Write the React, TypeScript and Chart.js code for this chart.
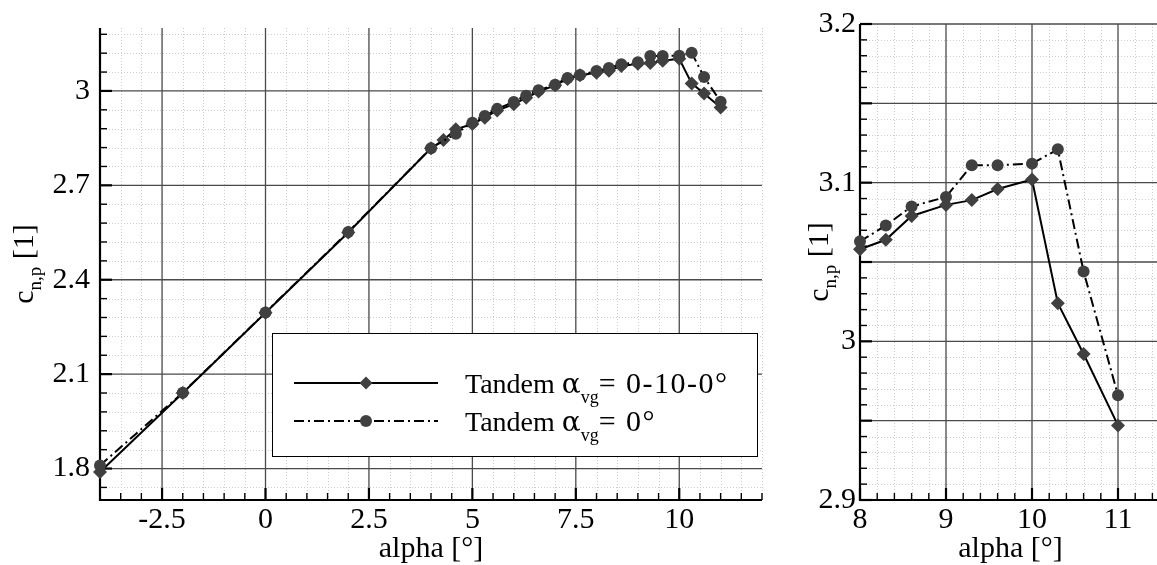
import { useEffect, useRef } from "react";
import { Chart, registerables } from "chart.js";

Chart.register(...registerables);

// ---------------- data ----------------
const alphaA = [-4, -2, 0, 2, 4, 4.3, 4.6, 5, 5.3, 5.6, 6, 6.3, 6.6, 7, 7.3, 7.6, 8, 8.3, 8.6, 9, 9.3, 9.6, 10, 10.3, 10.6, 11];
const cnA = [1.789, 2.04, 2.295, 2.55, 2.818, 2.844, 2.878, 2.895, 2.915, 2.938, 2.958, 2.978, 2.998, 3.018, 3.038, 3.05, 3.058, 3.064, 3.079, 3.086, 3.089, 3.096, 3.102, 3.024, 2.992, 2.947];

const alphaB = [-4, -2, 0, 2, 4, 4.6, 5, 5.3, 5.6, 6, 6.3, 6.6, 7, 7.3, 7.6, 8, 8.3, 8.6, 9, 9.3, 9.6, 10, 10.3, 10.6, 11];
const cnB = [1.81, 2.041, 2.296, 2.552, 2.818, 2.864, 2.899, 2.92, 2.943, 2.965, 2.985, 3.002, 3.02, 3.041, 3.051, 3.063, 3.073, 3.085, 3.091, 3.111, 3.111, 3.112, 3.121, 3.044, 2.966];

const labelA = { prefix: "Tandem ", greek: "α", sub: "vg", suffix: "= 0-10-0°" };
const labelB = { prefix: "Tandem ", greek: "α", sub: "vg", suffix: "= 0°" };
const xTitle = "alpha [°]";
const yTitle = { main: "c", sub: "n,p", tail: " [1]" };

const mainXTicks = [-2.5, 0, 2.5, 5, 7.5, 10];
const mainYTicks = [1.8, 2.1, 2.4, 2.7, 3];
const zoomXTicks = [8, 9, 10, 11];
const zoomYTicks = [2.9, 3, 3.1, 3.2];

// ---------------- styling ----------------
const FONT = '"Liberation Serif", "Times New Roman", Times, serif';
const GREEK_FONT = '"DejaVu Serif", serif';
const MARKER = "#404040";

type Panel = {
  left: number;
  width: number;
  xMin: number; xMax: number; yMin: number; yMax: number;
  xMajor: number; xMinor: number; yMajor: number; yMinor: number;
  xTicks: number[]; yTicks: number[];
  yAxisWidth: number; padRight: number; yLabelPad: number;
  yTitleX: number; legend: boolean; fromAlpha: number;
};

const mainPanel: Panel = {
  left: 0, width: 790,
  xMin: -4, xMax: 12, yMin: 1.7, yMax: 3.2,
  xMajor: 2.5, xMinor: 0.5, yMajor: 0.3, yMinor: 0.06,
  xTicks: mainXTicks, yTicks: mainYTicks,
  yAxisWidth: 100, padRight: 28, yLabelPad: 10,
  yTitleX: 33, legend: true, fromAlpha: -Infinity,
};

const zoomPanel: Panel = {
  left: 790, width: 380,
  xMin: 8, xMax: 11.5, yMin: 2.9, yMax: 3.2,
  xMajor: 1, xMinor: 0.2, yMajor: 0.05, yMinor: 0.01,
  xTicks: zoomXTicks, yTicks: zoomYTicks,
  yAxisWidth: 70, padRight: 9, yLabelPad: 4,
  yTitleX: 38, legend: false, fromAlpha: 8,
};

const H = 565;
const AREA_TOP = 24;
const AREA_BOTTOM = 500;

function steps(min: number, max: number, step: number): number[] {
  const out: number[] = [];
  const k0 = Math.ceil(min / step - 1e-6);
  const k1 = Math.floor(max / step + 1e-6);
  for (let k = k0; k <= k1; k++) out.push(+(k * step).toFixed(6));
  return out;
}

function isMultiple(v: number, step: number) {
  const r = v / step;
  return Math.abs(r - Math.round(r)) < 1e-6;
}

function line(ctx: CanvasRenderingContext2D, x1: number, y1: number, x2: number, y2: number) {
  ctx.beginPath();
  ctx.moveTo(x1, y1);
  ctx.lineTo(x2, y2);
  ctx.stroke();
}

function drawLegendText(
  ctx: any,
  parts: { prefix: string; greek: string; sub: string; suffix: string },
  x: number, y: number
) {
  ctx.textAlign = "left";
  ctx.textBaseline = "alphabetic";
  ctx.font = `28px ${FONT}`;
  ctx.fillText(parts.prefix, x, y);
  let cx = x + ctx.measureText(parts.prefix).width;
  ctx.font = `28px ${GREEK_FONT}`;
  ctx.fillText(parts.greek, cx, y);
  cx += ctx.measureText(parts.greek).width;
  ctx.font = `18px ${FONT}`;
  ctx.fillText(parts.sub, cx, y + 10);
  cx += ctx.measureText(parts.sub).width;
  ctx.font = `30px ${FONT}`;
  if ("letterSpacing" in ctx) ctx.letterSpacing = "1.5px";
  ctx.fillText(parts.suffix, cx, y);
  if ("letterSpacing" in ctx) ctx.letterSpacing = "0px";
}

function makePlugin(p: Panel) {
  return {
    id: "paperDecor",
    beforeDatasetsDraw(chart: any) {
      const { ctx, chartArea: a, scales } = chart;
      const xs = scales.x;
      const ys = scales.y;
      ctx.save();
      // minor dotted grid
      ctx.lineWidth = 1;
      ctx.strokeStyle = "#cdcdcd";
      ctx.setLineDash([1, 2]);
      for (const v of steps(p.xMin, p.xMax, p.xMinor)) {
        if (isMultiple(v, p.xMajor)) continue;
        const px = Math.round(xs.getPixelForValue(v)) + 0.5;
        line(ctx, px, a.top, px, a.bottom);
      }
      for (const v of steps(p.yMin, p.yMax, p.yMinor)) {
        if (isMultiple(v, p.yMajor)) continue;
        const py = Math.round(ys.getPixelForValue(v)) + 0.5;
        line(ctx, a.left, py, a.right, py);
      }
      // major grid
      ctx.setLineDash([]);
      ctx.strokeStyle = "#4a4a4a";
      ctx.lineWidth = 1.3;
      for (const v of steps(p.xMin, p.xMax, p.xMajor)) {
        if (Math.abs(v - p.xMin) < 1e-6) continue;
        const px = xs.getPixelForValue(v);
        line(ctx, px, a.top, px, a.bottom);
      }
      for (const v of steps(p.yMin, p.yMax, p.yMajor)) {
        if (Math.abs(v - p.yMin) < 1e-6) continue;
        const py = ys.getPixelForValue(v);
        line(ctx, a.left, py, a.right, py);
      }
      // axes
      ctx.strokeStyle = "#000";
      ctx.lineWidth = 2.2;
      line(ctx, a.left, a.top, a.left, a.bottom + 1);
      line(ctx, a.left - 1, a.bottom, a.right, a.bottom);
      // inward tick marks
      for (const v of steps(p.xMin, p.xMax, p.xMinor)) {
        const major = isMultiple(v, p.xMajor);
        ctx.lineWidth = major ? 2.2 : 1.4;
        const len = major ? 12 : 7;
        const px = xs.getPixelForValue(v);
        line(ctx, px, a.bottom, px, a.bottom - len);
      }
      for (const v of steps(p.yMin, p.yMax, p.yMinor)) {
        const major = isMultiple(v, p.yMajor);
        ctx.lineWidth = major ? 2.2 : 1.4;
        const len = major ? 12 : 7;
        const py = ys.getPixelForValue(v);
        line(ctx, a.left, py, a.left + len, py);
      }
      ctx.restore();
    },
    afterDraw(chart: any) {
      const { ctx, chartArea: a } = chart;
      ctx.save();
      ctx.fillStyle = "#000";
      // x title
      ctx.font = `30px ${FONT}`;
      ctx.textAlign = "center";
      ctx.textBaseline = "alphabetic";
      ctx.fillText(xTitle, (a.left + a.right) / 2, 557);
      // y title (rotated, with subscript)
      ctx.save();
      ctx.translate(p.yTitleX, (a.top + a.bottom) / 2);
      ctx.rotate(-Math.PI / 2);
      ctx.textAlign = "left";
      ctx.font = `30px ${FONT}`;
      const w1 = ctx.measureText(yTitle.main).width;
      ctx.font = `19px ${FONT}`;
      const w2 = ctx.measureText(yTitle.sub).width;
      ctx.font = `30px ${FONT}`;
      const w3 = ctx.measureText(yTitle.tail).width;
      let cx = -(w1 + w2 + w3) / 2;
      ctx.font = `30px ${FONT}`;
      ctx.fillText(yTitle.main, cx, 0);
      cx += w1;
      ctx.font = `19px ${FONT}`;
      ctx.fillText(yTitle.sub, cx, 8);
      cx += w2;
      ctx.font = `30px ${FONT}`;
      ctx.fillText(yTitle.tail, cx, 0);
      ctx.restore();

      if (p.legend) {
        const bx = 272, by = 333, bw = 485, bh = 123;
        ctx.fillStyle = "#fff";
        ctx.fillRect(bx, by, bw, bh);
        ctx.strokeStyle = "#000";
        ctx.lineWidth = 1;
        ctx.strokeRect(bx + 0.5, by + 0.5, bw, bh);
        const rows = [
          { y: 383, dash: [] as number[], style: "diamond", label: labelA },
          { y: 421, dash: [10, 4, 2, 4], style: "circle", label: labelB },
        ];
        for (const r of rows) {
          ctx.strokeStyle = "#000";
          ctx.lineWidth = 2;
          ctx.setLineDash(r.dash);
          line(ctx, 294, r.y, 438, r.y);
          ctx.setLineDash([]);
          ctx.fillStyle = MARKER;
          ctx.beginPath();
          if (r.style === "circle") {
            ctx.arc(366, r.y, 6, 0, Math.PI * 2);
          } else {
            ctx.moveTo(366 - 6.5, r.y);
            ctx.lineTo(366, r.y - 6.5);
            ctx.lineTo(366 + 6.5, r.y);
            ctx.lineTo(366, r.y + 6.5);
            ctx.closePath();
          }
          ctx.fill();
          ctx.fillStyle = "#000";
          drawLegendText(ctx, r.label, 465, r.y + 10);
        }
      }
      ctx.restore();
    },
  };
}

function pts(xs: number[], ys: number[], from: number) {
  const out: { x: number; y: number }[] = [];
  xs.forEach((x, i) => {
    if (x >= from - 1e-9) out.push({ x, y: ys[i] });
  });
  return out;
}

function fmt(v: number) {
  return String(Math.round(v * 1000) / 1000);
}

function PanelChart({ p }: { p: Panel }) {
  const ref = useRef<HTMLCanvasElement | null>(null);
  useEffect(() => {
    if (!ref.current) return;
    const chart = new Chart(ref.current, {
      type: "scatter",
      data: {
        datasets: [
          {
            label: labelA.prefix + labelA.greek + labelA.sub + labelA.suffix,
            data: pts(alphaA, cnA, p.fromAlpha),
            showLine: true,
            borderColor: "#000",
            borderWidth: 2,
            pointStyle: "rectRot",
            pointRadius: 7,
            pointBackgroundColor: MARKER,
            pointBorderColor: MARKER,
            pointBorderWidth: 0,
            tension: 0,
            clip: false,
            order: 1,
          },
          {
            label: labelB.prefix + labelB.greek + labelB.sub + labelB.suffix,
            data: pts(alphaB, cnB, p.fromAlpha),
            showLine: true,
            borderColor: "#000",
            borderWidth: 2,
            borderDash: [10, 4, 2, 4],
            pointStyle: "circle",
            pointRadius: 6,
            pointBackgroundColor: MARKER,
            pointBorderColor: MARKER,
            pointBorderWidth: 0,
            tension: 0,
            clip: false,
            order: 0,
          },
        ],
      },
      options: {
        responsive: false,
        animation: false,
        events: [],
        layout: { padding: { top: AREA_TOP, right: p.padRight, left: 0, bottom: 0 } },
        plugins: { legend: { display: false }, tooltip: { enabled: false } },
        scales: {
          x: {
            type: "linear",
            min: p.xMin,
            max: p.xMax,
            grid: { display: false, drawTicks: false },
            border: { display: false },
            afterBuildTicks: (s: any) => {
              s.ticks = p.xTicks.map((v) => ({ value: v }));
            },
            afterFit: (s: any) => {
              s.height = H - AREA_BOTTOM;
            },
            ticks: {
              padding: 2,
              maxRotation: 0,
              autoSkip: false,
              color: "#000",
              font: { family: FONT, size: 30 },
              callback: (v: any) => fmt(Number(v)),
            },
          },
          y: {
            type: "linear",
            min: p.yMin,
            max: p.yMax,
            grid: { display: false, drawTicks: false },
            border: { display: false },
            afterBuildTicks: (s: any) => {
              s.ticks = p.yTicks.map((v) => ({ value: v }));
            },
            afterFit: (s: any) => {
              s.width = p.yAxisWidth;
            },
            ticks: {
              padding: p.yLabelPad,
              autoSkip: false,
              color: "#000",
              font: { family: FONT, size: 30 },
              callback: (v: any) => fmt(Number(v)),
            },
          },
        },
      },
      plugins: [makePlugin(p)],
    } as any);
    return () => chart.destroy();
  }, [p]);
  return (
    <canvas
      ref={ref}
      width={p.width}
      height={H}
      style={{ position: "absolute", left: p.left, top: 0, width: p.width, height: H, display: "block" }}
    />
  );
}

export default function App() {
  return (
    <div
      style={{
        position: "absolute",
        left: 0,
        top: 0,
        width: 1157,
        height: H,
        overflow: "hidden",
        background: "#fff",
      }}
    >
      <PanelChart p={mainPanel} />
      <PanelChart p={zoomPanel} />
    </div>
  );
}
